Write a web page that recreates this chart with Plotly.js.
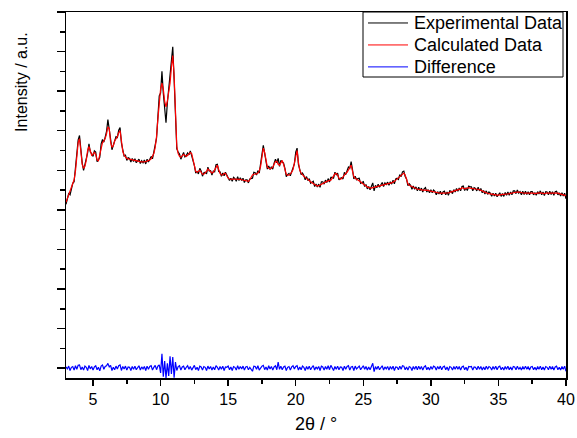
<!DOCTYPE html>
<html>
<head>
<meta charset="utf-8">
<script src="https://cdn.plot.ly/plotly-3.0.1.min.js"></script>
<style>html,body{margin:0;padding:0;background:#fff;}#chart{width:577px;height:438px;}</style>
</head>
<body>
<div id="chart"></div>
<script>
// 2theta grid: 3.0 .. 40.0 in 0.1 degree steps (instrument step)
const nPoints = 371;
const twoTheta = Array.from({length: nPoints}, (_, i) => Math.round((3 + i * 0.1) * 10) / 10);

const experimental = [
4.14,4.26,4.41,4.38,4.55,4.67,4.71,5.04,5.32,5.77,
5.88,5.41,5.18,5.00,5.15,5.27,5.44,5.67,5.46,5.42,
5.35,5.49,5.46,5.22,5.26,5.33,5.67,5.78,5.71,5.84,
5.98,6.28,6.08,5.79,5.52,5.64,5.70,5.85,5.83,6.01,
6.08,5.69,5.52,5.36,5.38,5.25,5.32,5.30,5.21,5.30,
5.22,5.29,5.19,5.24,5.28,5.17,5.24,5.19,5.26,5.16,
5.28,5.21,5.30,5.35,5.29,5.44,5.65,5.81,6.35,6.88,
6.95,7.50,6.95,6.60,6.20,6.70,7.05,7.35,7.60,8.12,
7.30,6.40,5.54,5.46,5.41,5.28,5.39,5.45,5.34,5.37,
5.44,5.39,5.49,5.37,5.28,5.12,4.93,4.97,4.91,5.05,
4.98,4.85,4.94,4.95,4.91,5.08,4.98,4.99,4.88,4.98,
4.96,5.14,5.15,4.97,4.96,4.85,4.93,4.86,4.95,4.88,
4.85,4.74,4.80,4.72,4.82,4.79,4.72,4.84,4.74,4.81,
4.74,4.80,4.69,4.76,4.76,4.68,4.78,4.79,4.80,4.95,
4.94,4.88,4.99,4.93,5.12,5.40,5.63,5.41,5.23,5.03,
5.11,5.02,5.09,5.03,5.18,5.28,5.19,5.30,5.10,5.25,
5.21,5.18,5.05,4.84,4.89,4.92,4.86,4.98,5.08,5.16,
5.46,5.56,5.15,5.03,4.89,4.93,4.87,4.76,4.84,4.74,
4.79,4.67,4.70,4.72,4.59,4.65,4.58,4.65,4.57,4.71,
4.71,4.65,4.75,4.69,4.79,4.70,4.82,4.82,4.80,4.95,
4.89,4.93,4.76,4.80,4.81,4.78,4.95,4.89,4.99,5.08,
5.05,5.22,5.02,4.78,4.85,4.76,4.79,4.80,4.67,4.70,
4.71,4.59,4.64,4.53,4.59,4.51,4.60,4.68,4.48,4.62,
4.56,4.65,4.57,4.64,4.69,4.59,4.68,4.64,4.70,4.62,
4.71,4.65,4.75,4.66,4.78,4.80,4.77,4.89,4.84,4.96,
4.98,4.84,4.78,4.61,4.66,4.62,4.52,4.60,4.52,4.58,
4.48,4.57,4.48,4.55,4.45,4.53,4.56,4.45,4.51,4.43,
4.51,4.43,4.50,4.47,4.38,4.46,4.40,4.47,4.38,4.45,
4.47,4.38,4.45,4.37,4.48,4.47,4.41,4.51,4.45,4.54,
4.47,4.55,4.48,4.59,4.60,4.49,4.56,4.49,4.60,4.58,
4.58,4.48,4.56,4.54,4.48,4.57,4.48,4.54,4.43,4.49,
4.40,4.48,4.39,4.45,4.42,4.34,4.42,4.35,4.42,4.33,
4.40,4.43,4.34,4.41,4.34,4.44,4.37,4.45,4.37,4.45,
4.38,4.48,4.48,4.41,4.50,4.42,4.46,4.38,4.47,4.39,
4.47,4.39,4.46,4.38,4.46,4.46,4.38,4.43,4.37,4.46,
4.40,4.48,4.38,4.45,4.36,4.46,4.45,4.38,4.47,4.39,
4.46,4.37,4.46,4.47,4.38,4.43,4.35,4.43,4.35,4.42,
4.28];

const calculated = [
4.19,4.28,4.36,4.44,4.53,4.63,4.76,4.98,5.35,5.70,
5.80,5.45,5.15,5.05,5.10,5.25,5.50,5.60,5.48,5.38,
5.40,5.46,5.40,5.26,5.24,5.40,5.62,5.70,5.74,5.80,
5.92,6.10,6.05,5.72,5.58,5.62,5.74,5.80,5.85,5.95,
6.00,5.75,5.48,5.38,5.33,5.30,5.29,5.28,5.27,5.26,
5.25,5.24,5.23,5.22,5.22,5.22,5.21,5.21,5.22,5.22,
5.23,5.24,5.26,5.29,5.34,5.42,5.58,5.85,6.30,6.80,
7.05,7.20,7.05,6.75,6.60,6.75,7.00,7.20,7.60,7.90,
7.40,6.30,5.60,5.42,5.35,5.33,5.36,5.40,5.38,5.35,
5.38,5.42,5.45,5.42,5.25,5.05,4.97,4.95,4.97,5.00,
4.95,4.90,4.90,4.93,4.97,5.03,5.00,4.95,4.93,4.95,
5.00,5.08,5.13,5.02,4.92,4.88,4.88,4.92,4.92,4.86,
4.80,4.78,4.77,4.78,4.78,4.77,4.77,4.78,4.77,4.77,
4.76,4.75,4.74,4.73,4.72,4.72,4.76,4.82,4.88,4.90,
4.90,4.91,4.93,4.98,5.10,5.35,5.56,5.45,5.20,5.08,
5.05,5.04,5.05,5.08,5.15,5.22,5.23,5.15,5.13,5.20,
5.25,5.15,5.00,4.90,4.87,4.88,4.91,4.95,5.02,5.18,
5.42,5.50,5.20,5.00,4.93,4.88,4.85,4.82,4.80,4.77,
4.74,4.71,4.68,4.66,4.64,4.62,4.60,4.61,4.63,4.66,
4.68,4.70,4.71,4.72,4.73,4.74,4.75,4.80,4.86,4.91,
4.92,4.88,4.80,4.77,4.79,4.84,4.90,4.92,4.95,5.02,
5.10,5.13,4.98,4.84,4.80,4.78,4.76,4.75,4.71,4.68,
4.65,4.62,4.60,4.58,4.56,4.55,4.55,4.56,4.57,4.58,
4.59,4.60,4.61,4.62,4.63,4.64,4.65,4.66,4.66,4.67,
4.67,4.68,4.70,4.72,4.75,4.78,4.81,4.84,4.87,4.90,
4.93,4.88,4.75,4.66,4.62,4.60,4.58,4.56,4.55,4.53,
4.52,4.52,4.51,4.51,4.50,4.50,4.50,4.49,4.49,4.48,
4.47,4.46,4.45,4.44,4.43,4.42,4.42,4.42,4.42,4.42,
4.42,4.42,4.42,4.43,4.44,4.45,4.46,4.47,4.48,4.49,
4.50,4.51,4.53,4.56,4.55,4.53,4.54,4.55,4.56,4.55,
4.54,4.53,4.53,4.52,4.52,4.52,4.51,4.50,4.48,4.46,
4.44,4.43,4.42,4.41,4.40,4.39,4.38,4.38,4.37,4.37,
4.37,4.38,4.38,4.39,4.39,4.40,4.40,4.40,4.41,4.42,
4.43,4.44,4.45,4.45,4.45,4.45,4.44,4.43,4.43,4.42,
4.42,4.42,4.42,4.43,4.43,4.42,4.42,4.41,4.42,4.42,
4.43,4.43,4.42,4.42,4.41,4.42,4.43,4.42,4.42,4.42,
4.42,4.42,4.43,4.42,4.42,4.41,4.40,4.39,4.38,4.37,
4.36];

const difference = [
0.03,-0.02,0.05,-0.06,0.02,0.04,-0.05,0.06,-0.03,0.07,
0.08,-0.04,0.03,-0.05,0.05,0.02,-0.06,0.07,-0.02,0.04,
-0.05,0.03,0.06,-0.04,0.02,-0.07,0.05,0.08,-0.03,0.04,
0.06,0.12,0.03,0.07,-0.06,0.02,-0.04,0.05,-0.02,0.06,
0.08,-0.06,0.04,-0.02,0.05,-0.05,0.03,0.02,-0.06,0.04,
-0.03,0.05,-0.04,0.02,0.06,-0.05,0.03,-0.02,0.04,-0.06,
0.05,-0.03,0.04,0.06,-0.05,0.02,0.07,-0.04,0.05,0.08,
-0.12,0.36,-0.22,0.18,-0.25,0.12,-0.20,0.30,-0.15,0.28,
-0.24,0.15,-0.06,0.04,0.06,-0.05,0.03,0.05,-0.04,0.02,
0.06,-0.03,0.04,-0.05,0.03,0.07,-0.04,0.02,-0.06,0.05,
0.03,-0.05,0.04,0.02,-0.06,0.05,-0.02,0.04,-0.05,0.03,
-0.04,0.06,0.02,-0.05,0.04,-0.03,0.05,-0.06,0.03,0.02,
0.05,-0.04,0.03,-0.06,0.04,0.02,-0.05,0.06,-0.03,0.04,
-0.02,0.05,-0.05,0.03,0.04,-0.04,0.02,-0.03,-0.08,0.05,
0.04,-0.03,0.06,-0.05,0.02,0.05,0.07,-0.04,0.03,-0.05,
0.06,-0.02,0.04,-0.05,0.03,0.06,-0.04,0.15,-0.03,0.05,
-0.04,0.03,0.05,-0.06,0.02,0.04,-0.05,0.03,0.06,-0.02,
0.04,0.06,-0.05,0.03,-0.04,0.05,0.02,-0.06,0.04,-0.03,
0.05,-0.04,0.02,0.06,-0.05,0.03,-0.02,0.04,-0.06,0.05,
0.03,-0.05,0.04,-0.03,0.06,-0.04,0.07,0.02,-0.06,0.04,
-0.03,0.05,-0.04,0.03,0.02,-0.06,0.05,-0.03,0.04,0.06,
-0.05,0.03,0.04,-0.06,0.05,-0.02,0.03,0.05,-0.04,0.02,
0.06,-0.03,0.04,-0.05,0.03,-0.04,0.05,0.12,-0.09,0.04,
-0.03,0.05,-0.04,0.02,0.06,-0.05,0.03,-0.02,0.04,-0.05,
0.04,-0.03,0.05,-0.06,0.03,0.02,-0.04,0.05,-0.03,0.06,
0.05,-0.04,0.03,-0.05,0.04,0.02,-0.06,0.04,-0.03,0.05,
-0.04,0.05,-0.03,0.04,-0.05,0.03,0.06,-0.04,0.02,-0.05,
0.04,-0.03,0.05,0.03,-0.05,0.04,-0.02,0.05,-0.04,0.03,
0.05,-0.04,0.03,-0.06,0.04,0.02,-0.05,0.04,-0.03,0.05,
-0.03,0.04,-0.05,0.03,0.05,-0.04,0.02,-0.06,0.04,0.03,
0.04,-0.05,0.03,0.02,-0.04,0.05,-0.03,0.04,-0.05,0.03,
-0.04,0.05,-0.03,0.04,0.02,-0.05,0.04,-0.03,0.05,-0.04,
0.03,0.05,-0.04,0.02,-0.05,0.04,-0.03,0.05,-0.04,0.03,
-0.05,0.04,0.03,-0.04,0.05,-0.03,0.02,-0.05,0.04,-0.03,
0.05,-0.03,0.04,-0.05,0.03,0.04,-0.04,0.02,-0.05,0.04,
-0.03,0.05,-0.04,0.03,-0.05,0.04,0.02,-0.04,0.05,-0.03,
0.04,-0.05,0.03,0.05,-0.04,0.02,-0.05,0.04,-0.03,0.05,
-0.08];

const seriesNames = ['Experimental Data', 'Calculated Data', 'Difference'];
const seriesColors = ['#000000', '#ff0000', '#0000ff'];
const xTitle = '2θ / °';
const yTitle = 'Intensity / a.u.';

const FONT = 'Arial, "Liberation Sans", sans-serif';
const seriesY = [experimental, calculated, difference];

const traces = seriesY.map((ys, i) => ({
  x: twoTheta, y: ys, name: seriesNames[i], type: 'scatter', mode: 'lines',
  line: {color: seriesColors[i], width: 1.2}, showlegend: false
}));

// Compact boxed legend (paper coordinates), entries taken from the series names/colours
const legBox = {x0: 0.594, x1: 0.994, y0: 0.8224, y1: 1.0};
const legRows = [0.970, 0.910, 0.850];
const shapes = [{type: 'rect', xref: 'paper', yref: 'paper', x0: legBox.x0, x1: legBox.x1,
                 y0: legBox.y0, y1: legBox.y1, line: {color: '#000000', width: 1}, fillcolor: '#ffffff', layer: 'above'}];
const annotations = [{text: yTitle, xref: 'paper', yref: 'paper', x: -0.088, y: 0.809,
                 xanchor: 'center', yanchor: 'middle', textangle: -90, showarrow: false,
                 font: {family: FONT, size: 16, color: '#000000'}}];
seriesNames.forEach((nm, i) => {
  shapes.push({type: 'line', xref: 'paper', yref: 'paper', x0: 0.604, x1: 0.684,
               y0: legRows[i], y1: legRows[i], line: {color: seriesColors[i], width: 1}, layer: 'above'});
  annotations.push({text: nm, xref: 'paper', yref: 'paper', x: 0.692, y: legRows[i],
                    xanchor: 'left', yanchor: 'middle', showarrow: false,
                    font: {family: FONT, size: 18, color: '#000000'}});
});

const layout = {
  width: 577, height: 438,
  margin: {l: 66, r: 11, t: 12, b: 60},
  paper_bgcolor: '#ffffff', plot_bgcolor: '#ffffff',
  font: {family: FONT, color: '#000000', size: 16},
  showlegend: false,
  xaxis: {range: [3, 40], showgrid: false, zeroline: false, showline: true, mirror: true,
          linecolor: '#000000', linewidth: 1.5, ticks: 'outside', ticklen: 6, tickwidth: 1.5,
          tickcolor: '#000000', tick0: 0, dtick: 5, tickfont: {family: FONT, size: 16},
          minor: {ticks: 'outside', ticklen: 4, tickwidth: 1.5, tickcolor: '#000000', dtick: 2.5, showgrid: false},
          title: {text: xTitle, font: {family: FONT, size: 18}, standoff: 10}},
  yaxis: {range: [-0.25, 9], showgrid: false, zeroline: false, showline: true, mirror: true,
          linecolor: '#000000', linewidth: 1.5, ticks: 'outside', ticklen: 8, tickwidth: 1.5,
          tickcolor: '#000000', tick0: 0, dtick: 1, showticklabels: false,
          minor: {ticks: 'outside', ticklen: 5, tickwidth: 1.5, tickcolor: '#000000', dtick: 0.5, showgrid: false}},
  shapes: shapes,
  annotations: annotations
};

Plotly.newPlot('chart', traces, layout, {displayModeBar: false, staticPlot: true});
</script>
</body>
</html>
